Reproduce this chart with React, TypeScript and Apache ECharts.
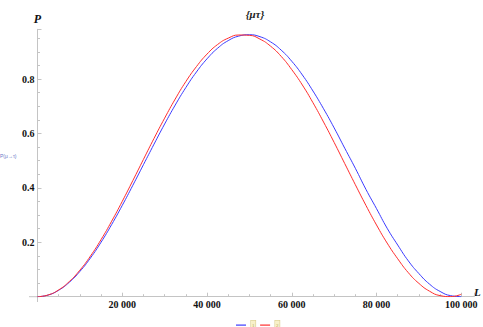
import React, { useEffect, useRef } from "react";
import * as echarts from "echarts";

const distances = [
  0, 2500, 5000, 7500, 10000, 12500, 15000, 17500, 20000, 22500, 25000, 27500, 30000, 32500, 35000, 37500, 40000,
  42500, 45000, 47500, 50000, 52500, 55000, 57500, 60000, 62500, 65000, 67500, 70000, 72500, 75000, 77500, 80000,
  82500, 85000, 87500, 90000, 92500, 95000, 97500, 100000,
];
const blueP = [
  0, 0.006, 0.0238, 0.053, 0.0929, 0.1424, 0.2003, 0.2653, 0.3356, 0.4096, 0.4854, 0.5609, 0.6348, 0.7045, 0.7688,
  0.826, 0.8744, 0.9134, 0.9414, 0.9581, 0.963, 0.9558, 0.9368, 0.9065, 0.8655, 0.8152, 0.7562, 0.6909, 0.6206,
  0.5459, 0.4721, 0.3946, 0.3237, 0.2518, 0.1899, 0.1318, 0.085, 0.0463, 0.0193, 0.0038, 0.0002,
];
const redP = [
  0, 0.0063, 0.025, 0.0557, 0.0975, 0.1494, 0.21, 0.2776, 0.3505, 0.427, 0.5048, 0.5821, 0.6564, 0.7267, 0.7907,
  0.8458, 0.8918, 0.9271, 0.9505, 0.962, 0.9608, 0.9469, 0.921, 0.8835, 0.8347, 0.7782, 0.7132, 0.6421, 0.5671,
  0.4893, 0.4117, 0.3357, 0.2636, 0.1972, 0.1394, 0.0883, 0.0489, 0.0203, 0.004, 0.0003, 0.0091,
];
const seriesNames = ["1", "2"];
const xTickLabels = [20000, 40000, 60000, 80000, 100000];
const yTickLabels = [0.2, 0.4, 0.6, 0.8];

const fmtThousands = (v: number) => String(v).replace(/\B(?=(\d{3})+(?!\d))/g, " ");

export default function App() {
  const ref = useRef<HTMLDivElement>(null);
  useEffect(() => {
    if (!ref.current) return;
    const chart = echarts.init(ref.current, undefined, { renderer: "svg" });
    const axisGray = "#c4c4c4";
    const labelStyle = {
      fontFamily: "Liberation Serif",
      fontWeight: "bold" as const,
      fontSize: 10,
      color: "#111",
    };
    chart.setOption({
      animation: false,
      backgroundColor: "#fff",
      title: {
        text: "{μτ}",
        left: 250,
        top: 3,
        textAlign: "center",
        textStyle: {
          fontFamily: "Liberation Serif",
          fontWeight: "bold",
          fontStyle: "italic",
          fontSize: 11,
          color: "#222",
        },
      },
      grid: {
        left: 37.5,
        top: 29.3,
        right: 9,
        bottom: 30.3,
        containLabel: false,
        outerBoundsMode: "none",
      },
      legend: {
        data: seriesNames,
        left: 231,
        top: 315,
        icon: "rect",
        itemWidth: 10,
        itemHeight: 1.2,
        itemGap: 4,
        textStyle: {
          fontSize: 5,
          lineHeight: 6,
          color: "#b5a55a",
          fontFamily: "Liberation Serif",
          backgroundColor: "#f8f1c9",
          borderColor: "#d9cd90",
          borderWidth: 0.6,
          padding: [1.5, 1],
        },
      },
      xAxis: {
        type: "value",
        min: 0,
        max: 103000,
        interval: 20000,
        name: "L",
        nameLocation: "end",
        nameGap: 0,
        nameMoveOverlap: false,
        nameTextStyle: {
          fontFamily: "Liberation Serif",
          fontWeight: "bold",
          fontStyle: "italic",
          fontSize: 11,
          lineHeight: 10,
          verticalAlign: "bottom",
          color: "#111",
        },
        axisLine: { show: true, lineStyle: { color: axisGray, width: 1 } },
        axisTick: { show: true, inside: true, length: 4, lineStyle: { color: axisGray } },
        minorTick: { show: true, splitNumber: 4, length: 2.5, lineStyle: { color: axisGray } },
        splitLine: { show: false },
        axisLabel: {
          ...labelStyle,
          margin: 3,
          formatter: (v: number) => (xTickLabels.indexOf(v) >= 0 ? fmtThousands(v) : ""),
        },
      },
      yAxis: {
        type: "value",
        min: 0,
        max: 0.983,
        interval: 0.2,
        name: "P",
        nameLocation: "end",
        nameGap: 4,
        nameMoveOverlap: false,
        nameTextStyle: {
          fontFamily: "Liberation Serif",
          fontWeight: "bold",
          fontStyle: "italic",
          fontSize: 12,
          color: "#111",
          align: "center",
        },
        axisLine: { show: true, lineStyle: { color: axisGray, width: 1 } },
        axisTick: { show: true, inside: true, length: 4, lineStyle: { color: axisGray } },
        minorTick: { show: true, splitNumber: 4, length: 2.5, lineStyle: { color: axisGray } },
        splitLine: { show: false },
        axisLabel: {
          ...labelStyle,
          margin: 3,
          formatter: (v: number) => {
            const hit = yTickLabels.find((t) => Math.abs(t - v) < 1e-6);
            return hit !== undefined ? hit.toFixed(1) : "";
          },
        },
      },
      graphic: [
        {
          type: "text",
          left: 0,
          top: 153,
          style: {
            text: "P(μ→τ)",
            fontSize: 5,
            fill: "#6a78c8",
            fontFamily: "Liberation Sans",
          },
        },
        {
          type: "line",
          shape: { x1: 29, y1: 296.7, x2: 38, y2: 296.7 },
          style: { stroke: axisGray, lineWidth: 1 },
        },
        {
          type: "line",
          shape: { x1: 37.5, y1: 296.7, x2: 37.5, y2: 302 },
          style: { stroke: axisGray, lineWidth: 1 },
        },
      ],
      series: [
        {
          name: seriesNames[0],
          type: "line",
          data: distances.map((d, i) => [d, blueP[i]]),
          smooth: true,
          showSymbol: false,
          symbol: "none",
          lineStyle: { color: "#3a3aff", width: 1 },
          itemStyle: { color: "#3a3aff" },
        },
        {
          name: seriesNames[1],
          type: "line",
          data: distances.map((d, i) => [d, redP[i]]),
          smooth: true,
          showSymbol: false,
          symbol: "none",
          lineStyle: { color: "#ff2d2d", width: 1 },
          itemStyle: { color: "#ff2d2d" },
        },
      ],
    });
    return () => chart.dispose();
  }, []);
  return (
    <div
      ref={ref}
      style={{ position: "fixed", left: 0, top: 0, width: 483, height: 327 }}
    />
  );
}
